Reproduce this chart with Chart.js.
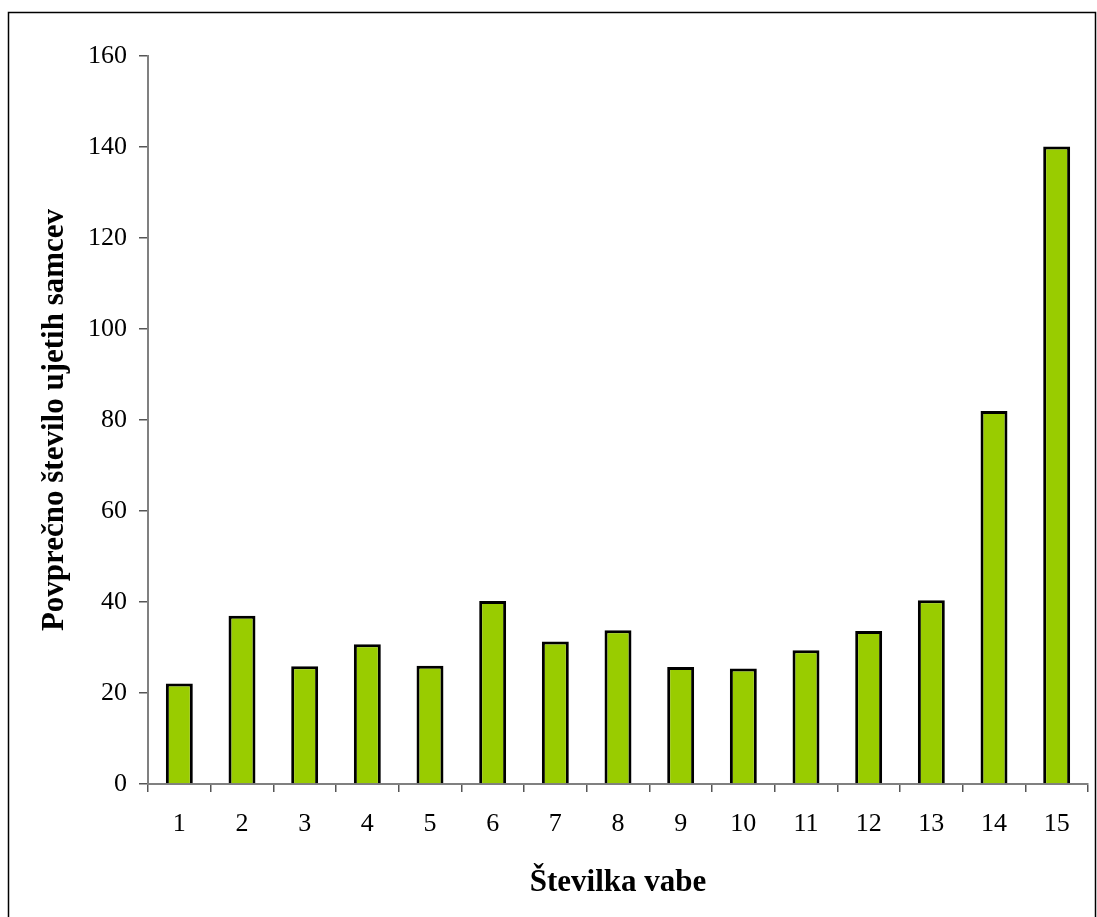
<!DOCTYPE html>
<html>
<head>
<meta charset="utf-8">
<script src="https://cdn.jsdelivr.net/npm/chart.js@4"></script>
<style>
  html, body { margin: 0; padding: 0; background: #fff; }
  #wrap { width: 1097px; height: 917px; position: relative; }
</style>
</head>
<body>
<div id="wrap"><canvas id="c" width="1097" height="917"></canvas></div>
<script>
// Trap numbers
const categories = ['1','2','3','4','5','6','7','8','9','10','11','12','13','14','15'];
// Mean number of caught males per trap
const maleCounts = [22.1, 37.0, 25.9, 30.7, 26.0, 40.2, 31.3, 33.8, 25.7, 25.4, 29.4, 33.6, 40.4, 82.0, 140.1];
const yTicks = [0, 20, 40, 60, 80, 100, 120, 140, 160];

const xTitle = 'Številka vabe';
const yTitle = 'Povprečno število ujetih samcev';

const serif = "'Liberation Serif', 'Times New Roman', serif";

// Thin frame around the whole chart
const framePlugin = {
  id: 'frame',
  beforeDraw(chart) {
    const ctx = chart.ctx;
    ctx.save();
    ctx.fillStyle = '#fff';
    ctx.fillRect(0, 0, chart.width, chart.height);
    ctx.strokeStyle = '#000';
    ctx.lineWidth = 1.5;
    ctx.beginPath();
    ctx.moveTo(8.5, chart.height + 2);
    ctx.lineTo(8.5, 12.5);
    ctx.lineTo(1095.5, 12.5);
    ctx.lineTo(1095.5, chart.height + 2);
    ctx.stroke();
    ctx.restore();
  }
};

new Chart(document.getElementById('c'), {
  type: 'bar',
  data: {
    labels: categories,
    datasets: [{
      data: maleCounts,
      backgroundColor: '#99CC00',
      borderColor: '#000',
      borderWidth: 3,
      barPercentage: 0.43,
      categoryPercentage: 1.0
    }]
  },
  options: {
    responsive: false,
    animation: false,
    layout: { padding: { top: 56, right: 9, left: 0, bottom: 0 } },
    plugins: { legend: { display: false }, tooltip: { enabled: false } },
    scales: {
      x: {
        offset: true,
        grid: {
          offset: true,
          drawOnChartArea: false,
          drawTicks: true,
          tickLength: 8,
          color: '#555',
          lineWidth: 1.5
        },
        border: { color: '#808080', width: 2 },
        ticks: {
          color: '#000',
          font: { family: serif, size: 26 },
          padding: 17,
          maxRotation: 0
        },
        title: {
          display: true,
          text: xTitle,
          color: '#000',
          font: { family: serif, size: 31, weight: 'bold' },
          padding: { top: 0, bottom: 15 }
        },
        afterFit(scale) { scale.height = 133; }
      },
      y: {
        min: 0,
        max: 160,
        afterBuildTicks(scale) { scale.ticks = yTicks.map(v => ({ value: v })); },
        grid: {
          drawOnChartArea: false,
          drawTicks: true,
          tickLength: 9,
          color: '#555',
          lineWidth: 1.5
        },
        border: { color: '#808080', width: 2 },
        ticks: {
          color: '#000',
          font: { family: serif, size: 26 },
          padding: 12
        },
        title: {
          display: true,
          text: yTitle,
          color: '#000',
          font: { family: serif, size: 31, weight: 'bold' },
          padding: { top: 36, bottom: 0 }
        },
        afterFit(scale) { scale.width = 148; }
      }
    }
  },
  plugins: [framePlugin]
});
</script>
</body>
</html>
